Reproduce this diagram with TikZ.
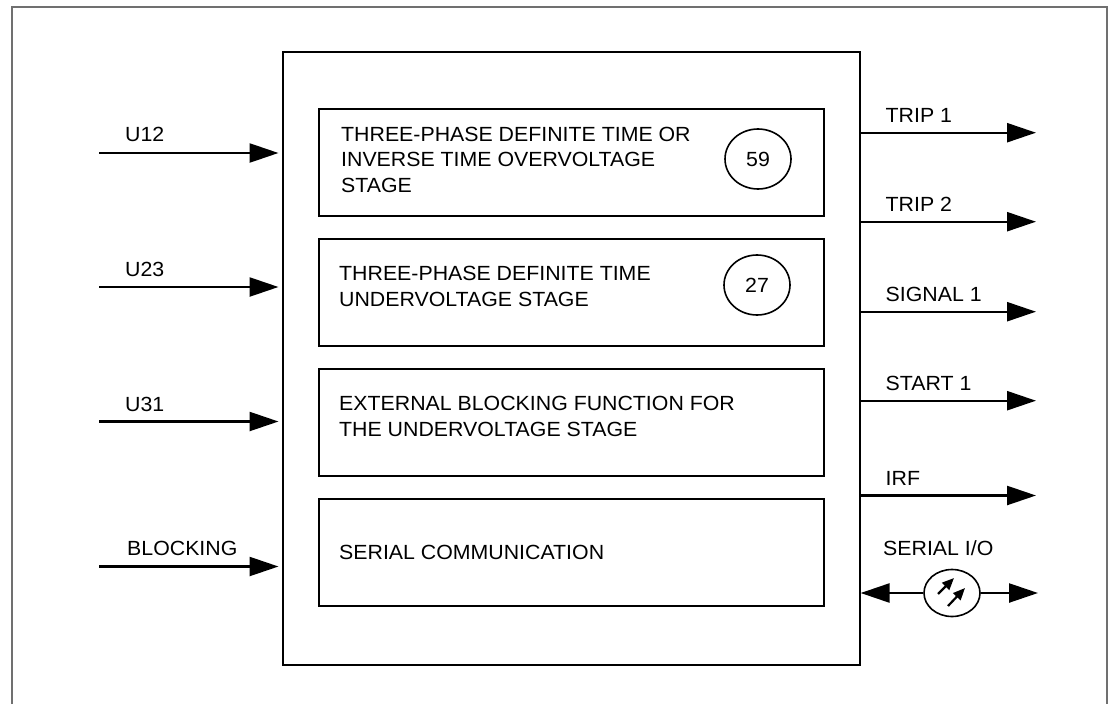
\documentclass[tikz,border=0pt]{standalone}
\usepackage{fontspec}
\setmainfont{Liberation Sans}[FakeStretch=1.04]
\usetikzlibrary{arrows.meta,shapes.geometric}
\begin{document}
\begin{tikzpicture}[x=1pt,y=-1pt,
  txt/.style={font=\fontsize{20.5}{25.5}\selectfont, inner sep=0pt, align=left},
  lbl/.style={font=\fontsize{20.5}{22}\selectfont, inner sep=0pt, anchor=base west},
  blk/.style={draw, line width=1.6pt, inner sep=0pt},
  stagebox/.style={blk, minimum width=505pt, minimum height=107pt, anchor=north west},
  ansi/.style={draw, ellipse, line width=1.6pt, inner sep=0pt, font=\fontsize{20.5}{22}\selectfont},
  sig/.style={line width=2.4pt, -{Triangle[length=29pt,width=19pt]}}]
\useasboundingbox (0,0) rectangle (1116,704);
\definecolor{framegray}{HTML}{707070}
% outer frame (open at the bottom)
\coordinate (fbl) at (12,704);
\coordinate (ftl) at (12,7);
\coordinate (ftr) at (1107,7);
\coordinate (fbr) at (1107,704);
\draw[framegray, line width=1.6pt] (fbl) -- (ftl) -- (ftr) -- (fbr);
% main box
\node[blk, minimum width=577pt, minimum height=613pt, anchor=north west] (main) at (282,51) {};
% stage boxes
\node[stagebox] (b1) at (318,108) {};
\node[stagebox] (b2) at (318,238) {};
\node[stagebox] (b3) at (318,368) {};
\node[stagebox] (b4) at (318,498) {};
\node[txt, anchor=north west] (t1) at (341,126.5) {THREE-PHASE DEFINITE TIME OR\\INVERSE TIME OVERVOLTAGE\\STAGE};
\node[txt, anchor=north west] (t2) at (339,266) {THREE-PHASE DEFINITE TIME\\UNDERVOLTAGE STAGE};
\node[txt, anchor=north west] (t3) at (339,396) {EXTERNAL BLOCKING FUNCTION FOR\\THE UNDERVOLTAGE STAGE};
\node[txt, anchor=west] (t4) at (339,552) {SERIAL COMMUNICATION};
\node[ansi, minimum width=66pt, minimum height=60pt] (c59) at (758,159) {59};
\node[ansi, minimum width=66pt, minimum height=60pt] (c27) at (757,285) {27};
% inputs
\coordinate (i1) at (99,153);
\coordinate (i2) at (99,287);
\coordinate (i3) at (99,421.5);
\coordinate (i4) at (99,566.5);
\draw[sig, shorten >=3.5pt] (i1) -- (i1 -| main.west);
\draw[sig, shorten >=3.5pt] (i2) -- (i2 -| main.west);
\draw[sig, shorten >=3.5pt] (i3) -- (i3 -| main.west);
\draw[sig, shorten >=3.5pt] (i4) -- (i4 -| main.west);
\node[lbl] (lu12) at (125,141.5) {U12};
\node[lbl] (lu23) at (125,276.5) {U23};
\node[lbl] (lu31) at (125,411) {U31};
\node[lbl] (lblk) at (127,555.5) {BLOCKING};
% outputs
\coordinate (o1) at (1036,132.7);
\coordinate (o2) at (1036,221.7);
\coordinate (o3) at (1036,311.7);
\coordinate (o4) at (1036,400.7);
\coordinate (o5) at (1036,495.5);
\draw[sig] (o1 -| main.east) -- (o1);
\draw[sig] (o2 -| main.east) -- (o2);
\draw[sig] (o3 -| main.east) -- (o3);
\draw[sig] (o4 -| main.east) -- (o4);
\draw[sig] (o5 -| main.east) -- (o5);
\node[lbl] (ltr1) at (885.5,122.7) {TRIP 1};
\node[lbl] (ltr2) at (885.5,211.7) {TRIP 2};
\node[lbl] (lsg1) at (885.5,301.7) {SIGNAL 1};
\node[lbl] (lst1) at (885.5,390.7) {START 1};
\node[lbl] (lirf) at (885.5,485.5) {IRF};
% serial I/O
\node[ansi, minimum width=56pt, minimum height=47pt] (ser) at (952,593) {};
\coordinate (so) at (1038,593);
\draw[sig] (ser.west) -- (ser.west -| main.east);
\draw[sig] (ser.east) -- (so);
\draw[line width=2.2pt, -{Triangle[length=12pt,width=10pt]}] ([shift={(-14,1)}]ser.center) -- ([shift={(2,-15)}]ser.center);
\draw[line width=2.2pt, -{Triangle[length=12pt,width=10pt]}] ([shift={(-4,13)}]ser.center) -- ([shift={(13,-5)}]ser.center);
\node[lbl] (lser) at (883,555) {SERIAL I/O};
\end{tikzpicture}
\end{document}
